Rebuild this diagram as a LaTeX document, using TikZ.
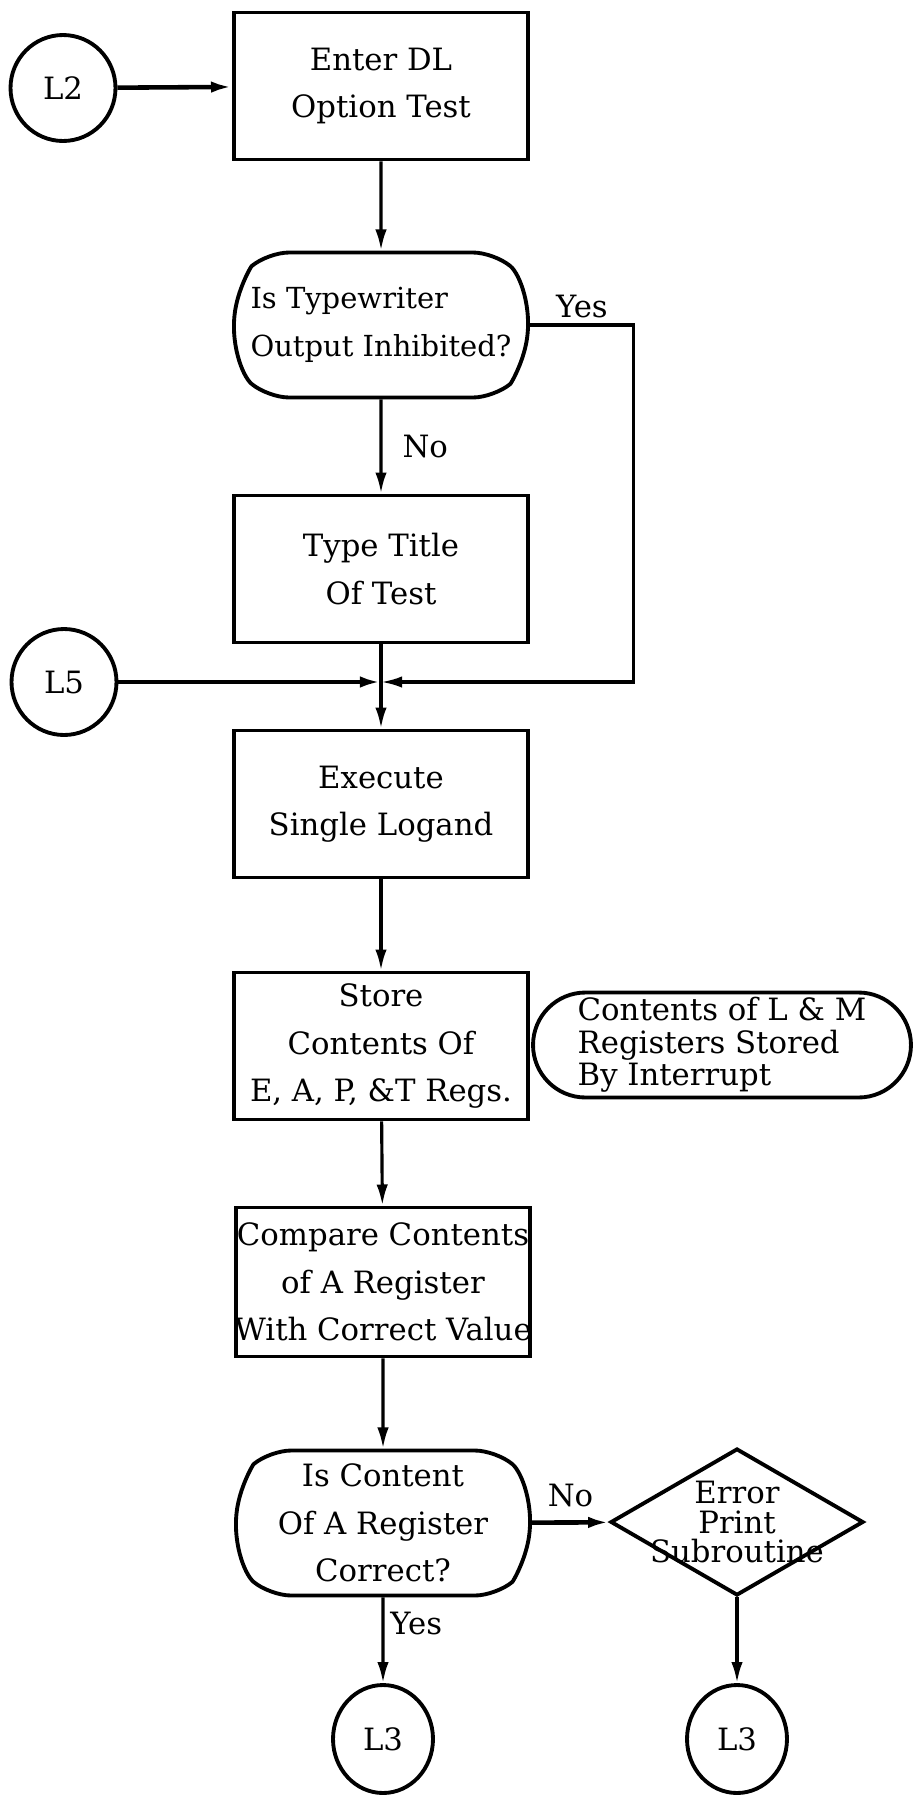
\documentclass[tikz,border=0pt]{standalone}
\usepackage{fontspec}
\setmainfont{DejaVu Serif}
\usetikzlibrary{shapes.geometric,shapes.misc,arrows.meta}
\begin{document}
\begin{tikzpicture}[x=0.02cm,y=-0.02cm,
  >={Latex[length=12pt,width=6.5pt]},
  every node/.style={font=\fontsize{17.5}{27}\selectfont},
  box/.style={draw,line width=2.2pt,rectangle,minimum width=5.88cm,minimum height=2.94cm,inner sep=0pt,align=center},
  query/.style={draw,line width=2.2pt,rounded rectangle,rounded rectangle arc length=100,rounded corners=12pt,minimum width=5.88cm,minimum height=2.9cm,inner sep=0pt},
  note/.style={draw,line width=2.2pt,rounded rectangle,minimum width=7.56cm,minimum height=2.1cm,inner sep=0pt,align=left,font=\fontsize{17.5}{18.5}\selectfont},
  decision/.style={draw,line width=2.2pt,diamond,minimum width=5.06cm,minimum height=2.94cm,inner sep=0pt,align=center,font=\fontsize{17.5}{17}\selectfont},
  link/.style={draw,line width=2.2pt,ellipse,minimum width=2.1cm,minimum height=2.12cm,inner sep=0pt},
  flow/.style={->,line width=1.8pt}]
  \useasboundingbox (0,0) rectangle (915,1796);
  \node[link] (L2) at (63,88) {L2};
  \node[box] (enter) at (381,86) {Enter DL\\Option Test};
  \node[query,align=left,font=\fontsize{16.5}{27}\selectfont] (typew) at (381,325) {Is Typewriter\\Output Inhibited?};
  \node[box] (title) at (381,569) {Type Title\\Of Test};
  \node[link] (L5) at (64,682) {L5};
  \coordinate (merge) at (381,682);
  \node[box] (exec) at (381,804) {Execute\\Single Logand};
  \node[box] (store) at (381,1046) {Store\\Contents Of\\\makebox[0pt]{E, A, P, \&T Regs.}};
  \node[note] (regs) at (722,1045) {Contents of L \& M\\Registers Stored\\ By Interrupt};
  \node[box,minimum height=2.98cm] (compare) at (383,1282) {\makebox[0pt]{Compare Contents}\\of A Register\\\makebox[0pt]{With Correct Value}};
  \node[query,align=center] (content) at (383,1523) {Is Content\\Of A Register\\Correct?};
  \node[decision] (error) at (737,1522) {\makebox[0pt]{Error}\\\makebox[0pt]{Print}\\\makebox[0pt]{Subroutine}};
  \node[link,minimum width=2cm,minimum height=2.16cm] (L3a) at (383,1739) {L3};
  \node[link,minimum width=2cm,minimum height=2.16cm] (L3b) at (737,1739) {L3};
  \draw[flow,line width=2.6pt] (L2) -- (enter);
  \draw[flow] (enter) -- (typew);
  \draw[flow] (typew) -- node[right=8pt] {No} (title);
  \draw[flow] (typew.east) -- node[above] {Yes} ++(104,0) |- (merge);
  \draw[flow,line width=2.6pt] (L5) -- (merge);
  \draw[flow] (title) -- (exec);
  \draw[flow] (exec) -- (store);
  \draw[flow] (store) -- (compare);
  \draw[flow] (compare) -- (content);
  \draw[flow,line width=2.6pt] (content) -- node[above=4pt] {No} (error);
  \draw[flow] (content) -- node[right,pos=0.3] {Yes} (L3a);
  \draw[flow] (error) -- (L3b);
\end{tikzpicture}
\end{document}
